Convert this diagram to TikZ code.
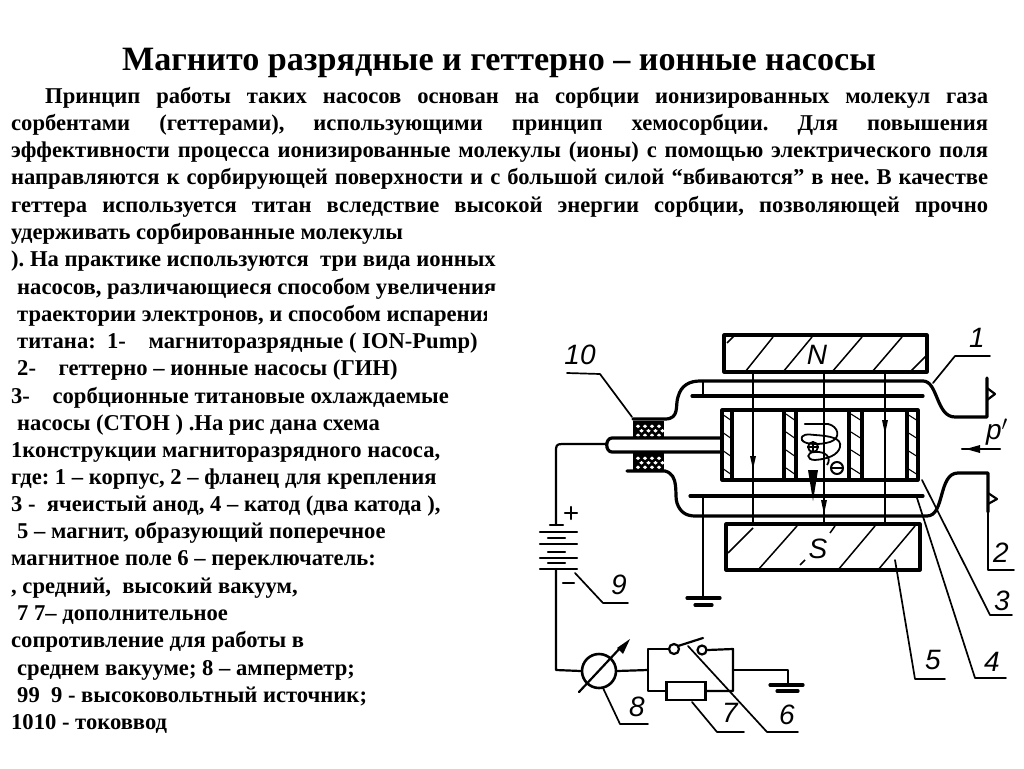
\documentclass[tikz,border=0pt]{standalone}
\usepackage{fontspec}
\setmainfont{Liberation Serif}
\newfontfamily\lblfont{Liberation Sans}
\usetikzlibrary{arrows.meta}
\frenchspacing
\tikzset{
 x=1pt,y=-1pt,
 txt/.style={anchor=base west,inner sep=0pt,font=\fontsize{22.6}{24}\selectfont\bfseries},
 line/.style={line width=2.2pt,line cap=round,line join=round,black},
 thick line/.style={line width=3.2pt,line cap=round,line join=round,black},
 thin line/.style={line width=1.7pt,line cap=round,line join=round,black},
 hatch/.style={line width=1.5pt,black},
 lbl/.style={inner sep=0pt,font=\lblfont\itshape\fontsize{28}{28}\selectfont},
}
\newcommand{\jl}[2]{\makebox[#1pt][s]{#2}}
\begin{document}
\begin{tikzpicture}
\useasboundingbox (0,0) rectangle (1024,768);
\fill[white] (0,0) rectangle (1024,768);
\node[inner sep=0pt,font=\fontsize{34.1}{36}\selectfont\bfseries] (title) at (499,63) {Магнито разрядные и геттерно – ионные насосы};
\node[txt] (l1) at (45,103) {\jl{943}{Принцип работы таких насосов основан на сорбции ионизированных молекул газа}};
\node[txt] (l2) at (11,130.5) {\jl{977}{сорбентами (геттерами), использующими принцип хемосорбции. Для повышения}};
\node[txt] (l3) at (11,157.5) {\jl{977}{эффективности процесса  ионизированные молекулы (ионы) с помощью электрического поля}};
\node[txt] (l4) at (11,184.5) {\jl{977}{направляются к сорбирующей поверхности и с большой силой “вбиваются” в нее. В качестве}};
\node[txt] (l5) at (11,212.5) {\jl{977}{геттера используется титан вследствие высокой энергии сорбции, позволяющей прочно}};
\node[txt] (l6) at (11,239) {удерживать сорбированные молекулы};
\node[txt] (l7) at (11,266) {). На практике используются~ три вида ионных};
\node[txt] (l8) at (17,294) {насосов, различающиеся способом увеличения};
\node[txt] (l9) at (17,321) {траектории электронов, и способом испарения};
\fill[white] (488,291) rectangle (530,299);
\fill[white] (486.5,304) rectangle (530,327);
\node[txt] (l10) at (17,348.5) {титана:~ 1-~~~ магниторазрядные ( ION-Pump)};
\node[txt] (l11) at (17,375.5) {2-~~~ геттерно – ионные насосы (ГИН)};
\node[txt] (l12) at (11,403) {3-~~~ сорбционные титановые охлаждаемые};
\node[txt] (l13) at (17,430) {насосы (СТОН ) .На рис дана схема};
\node[txt] (l14) at (11,457) {1конструкции магниторазрядного насоса,};
\node[txt] (l15) at (11,484) {где: 1 – корпус, 2 – фланец для крепления};
\node[txt] (l16) at (11,511.5) {3 -~ ячеистый анод, 4 – катод (два катода ),};
\node[txt] (l17) at (17,538.5) {5 – магнит, образующий поперечное};
\node[txt] (l18) at (11,565.5) {магнитное поле 6 – переключатель:};
\node[txt] (l19) at (11,593) {, средний,~ высокий вакуум,};
\node[txt] (l20) at (17,620) {7 7– дополнительное};
\node[txt] (l21) at (11,647.5) {сопротивление для работы в};
\node[txt] (l22) at (17,675) {среднем вакууме; 8 – амперметр;};
\node[txt] (l23) at (17,702) {99~ 9 - высоковольтный источник;};
\node[txt] (l24) at (11,729.5) {1010 - токоввод};
% magnets
\draw[thick line] (724,335) rectangle (927,372);
\draw[thick line] (726,524) rectangle (920,570);
\draw[hatch] (727,343)--(735,335) (745,372)--(773,337) (783,372)--(812,337) (832,372)--(862,337) (872,372)--(902,337) (910,372)--(927,355);
\draw[hatch] (728,553)--(753,528) (758,570)--(797,526) (800,565)--(805,560) (830,533)--(835,526) (838,570)--(875,526) (878,570)--(915,526);
\node[lbl] (nlab) at (817,355) {N};
\node[lbl] (slab) at (818,549) {S};
% tube
\draw[thick line] (633,419)--(665,419) .. controls (680,419) and (675,405) .. (678,397) .. controls (681,385) and (690,381) .. (700,381) -- (923,381) .. controls (938,381) and (936,417) .. (955,417) -- (987,417) -- (987,378);
\draw[thick line] (627,471)--(665,471) .. controls (680,475) and (674,495) .. (677,503) .. controls (680,512) and (686,516) .. (695,516) -- (927,516) .. controls (945,516) and (938,473) .. (958,473) -- (988,473) -- (988,512);
\draw[thick line] (692,396)--(923,396) (690,496)--(923,496);
\draw[line] (703,381)--(703,396) (703,496)--(703,598);
\draw[line] (987,388)--(995,394)--(987,400);
\draw[line] (988,493)--(997,499)--(988,504);
\draw[thick line] (687,598)--(720,598);
\draw[thick line] (695,605)--(712,605);
% insulators
\foreach \yy/\hh in {421/16,453/17}{
 \fill[black] (633,\yy) rectangle (664,\yy+\hh);
 \foreach \j/\off in {0/0,1/3.5,2/0}{\foreach \i in {0,1,2,3}{
   \fill[white] (638+\i*7+\off,\yy+3.5+\j*4.5) -- ++(2.2,1.8) -- ++(-2.2,1.8) -- ++(-2.2,-1.8) -- cycle;
 }}
}
% electrode
\draw[thick line] (722,438)--(612,438) .. controls (605,438) and (605,452) .. (612,452) -- (722,452);
% anode / cathode frame
\draw[thick line] (722,410) rectangle (918,480);
\foreach \xa in {732,784,796,849,862,907}{\draw[thick line] (\xa,410)--(\xa,480);}
\foreach \xa/\xb in {722/732,786/796,851/862,907/918}{
 \foreach \yy in {414,432,450,468}{\draw[line width=1.1pt] (\xa,\yy)--(\xb,\yy+7);}
}
% field lines
\draw[line] (753,372)--(753,522) (824,372)--(824,522) (885,372)--(885,522);
\fill[black] (750,456)--(756,456)--(753,469)--cycle;
\fill[black] (821,500)--(827,500)--(824,514)--cycle;
\fill[black] (882,420)--(888,420)--(885,434)--cycle;
% central
\draw[line] (805,424)--(828,424);
\draw[line width=1.8pt] (828,424) .. controls (838,426) and (842,438) .. (830,442) .. controls (820,445) and (805,445) .. (802,440) .. controls (800,434) and (808,434) .. (815,435) .. controls (830,436) and (842,438) .. (840,447) .. controls (838,455) and (828,459) .. (815,460) .. controls (806,460) and (806,452) .. (815,452) .. controls (826,451) and (832,458) .. (827,465);
\node[draw,circle,line width=1.8pt,minimum size=10pt,inner sep=0pt] (plus) at (813,447) {};
\draw[line width=1.4pt] (plus.west)--(plus.east) (plus.north)--(plus.south);
\node[draw,circle,line width=2pt,minimum size=12pt,inner sep=0pt] (minus) at (837,468) {};
\draw[line width=1.6pt] (minus.west)--(minus.east);
\fill[black] (808,470)--(818,470)--(813,501)--cycle;
% circuit
\coordinate (wa) at (606,444);
\coordinate (bt) at (556,525);
\draw[line] (wa)--(562,444) .. controls (556,444) and (556,446) .. (556,452) -- (bt);
\draw[line] (550,525)--(563,525);
\foreach \yy/\xa/\xb in {532/540/577,538/548/565,544/540/577,552/548/565,558/540/577,563/548/565,569/540/577}{\draw[line] (\xa,\yy)--(\xb,\yy);}
\node[draw,circle,line width=2.6pt,minimum size=34pt,inner sep=0pt] (amm) at (599,671) {};
\draw[line] (556,569)--(556,670)--(amm.west);
\draw[line] (579,692)--(622,646);
\fill[black] (617,648)--(630,639)--(623,654)--cycle;
\coordinate (swl) at (648,670);
\draw[line] (amm.east)--(swl);
\node[draw,circle,line width=2.2pt,minimum size=10pt,inner sep=0pt] (sa) at (674,649) {};
\node[draw,circle,line width=2.2pt,minimum size=9pt,inner sep=0pt] (sb) at (702,650) {};
\node[draw,rectangle,line width=2.6pt,minimum width=39pt,minimum height=18pt,inner sep=0pt] (res) at (686,691) {};
\draw[line] (sa.west)--(648,649)--(648,691)--(res.west);
\draw[line] (sb.east)--(733,649)--(733,691)--(res.east);
\draw[line] (678,646)--(703,638);
\draw[line] (733,670)--(788,670)--(788,685);
\draw[thick line] (770,685)--(803,685);
\draw[thick line] (777,691)--(798,691);
% plus minus
\draw[line] (565,513)--(577,513) (571,507)--(571,519);
\draw[line] (563,583)--(574,583);
% leaders
\draw[thin line] (575,573)--(603,603)--(628,603);
\draw[thin line] (603,688)--(620,724)--(648,724);
\draw[thin line] (692,702)--(717,732)--(744,732);
\draw[thin line] (688,646)--(767,732)--(798,732);
\draw[thin line] (632,417)--(600,374)--(567,373);
\draw[thin line] (933,383)--(955,356)--(990,356);
\draw[thin line] (988,505)--(988,570)--(1014,570);
\draw[thin line] (922,480)--(990,615)--(1012,615);
\draw[thin line] (917,498)--(975,678)--(1006,678);
\draw[thin line] (895,560)--(915,679)--(945,679);
% labels
\node[lbl] (n10) at (580,355) {10};
\node[lbl] (n1) at (977,338) {1};
\node[lbl] (n2) at (1001,553) {2};
\node[lbl] (n3) at (1002,601) {3};
\node[lbl] (n4) at (992,662) {4};
\node[lbl] (n5) at (933,660) {5};
\node[lbl] (n6) at (787,715) {6};
\node[lbl] (n7) at (730,713) {7};
\node[lbl] (n8) at (637,707) {8};
\node[lbl] (n9) at (619,585) {9};
\node[lbl] (pp) at (997,432) {p$'$};
\coordinate (pa) at (1000,449);
\coordinate (pb) at (962,449);
\draw[line] (pa)--(pb);
\fill[black] (966,449)--(980,445)--(980,453)--cycle;
\end{tikzpicture}
\end{document}
